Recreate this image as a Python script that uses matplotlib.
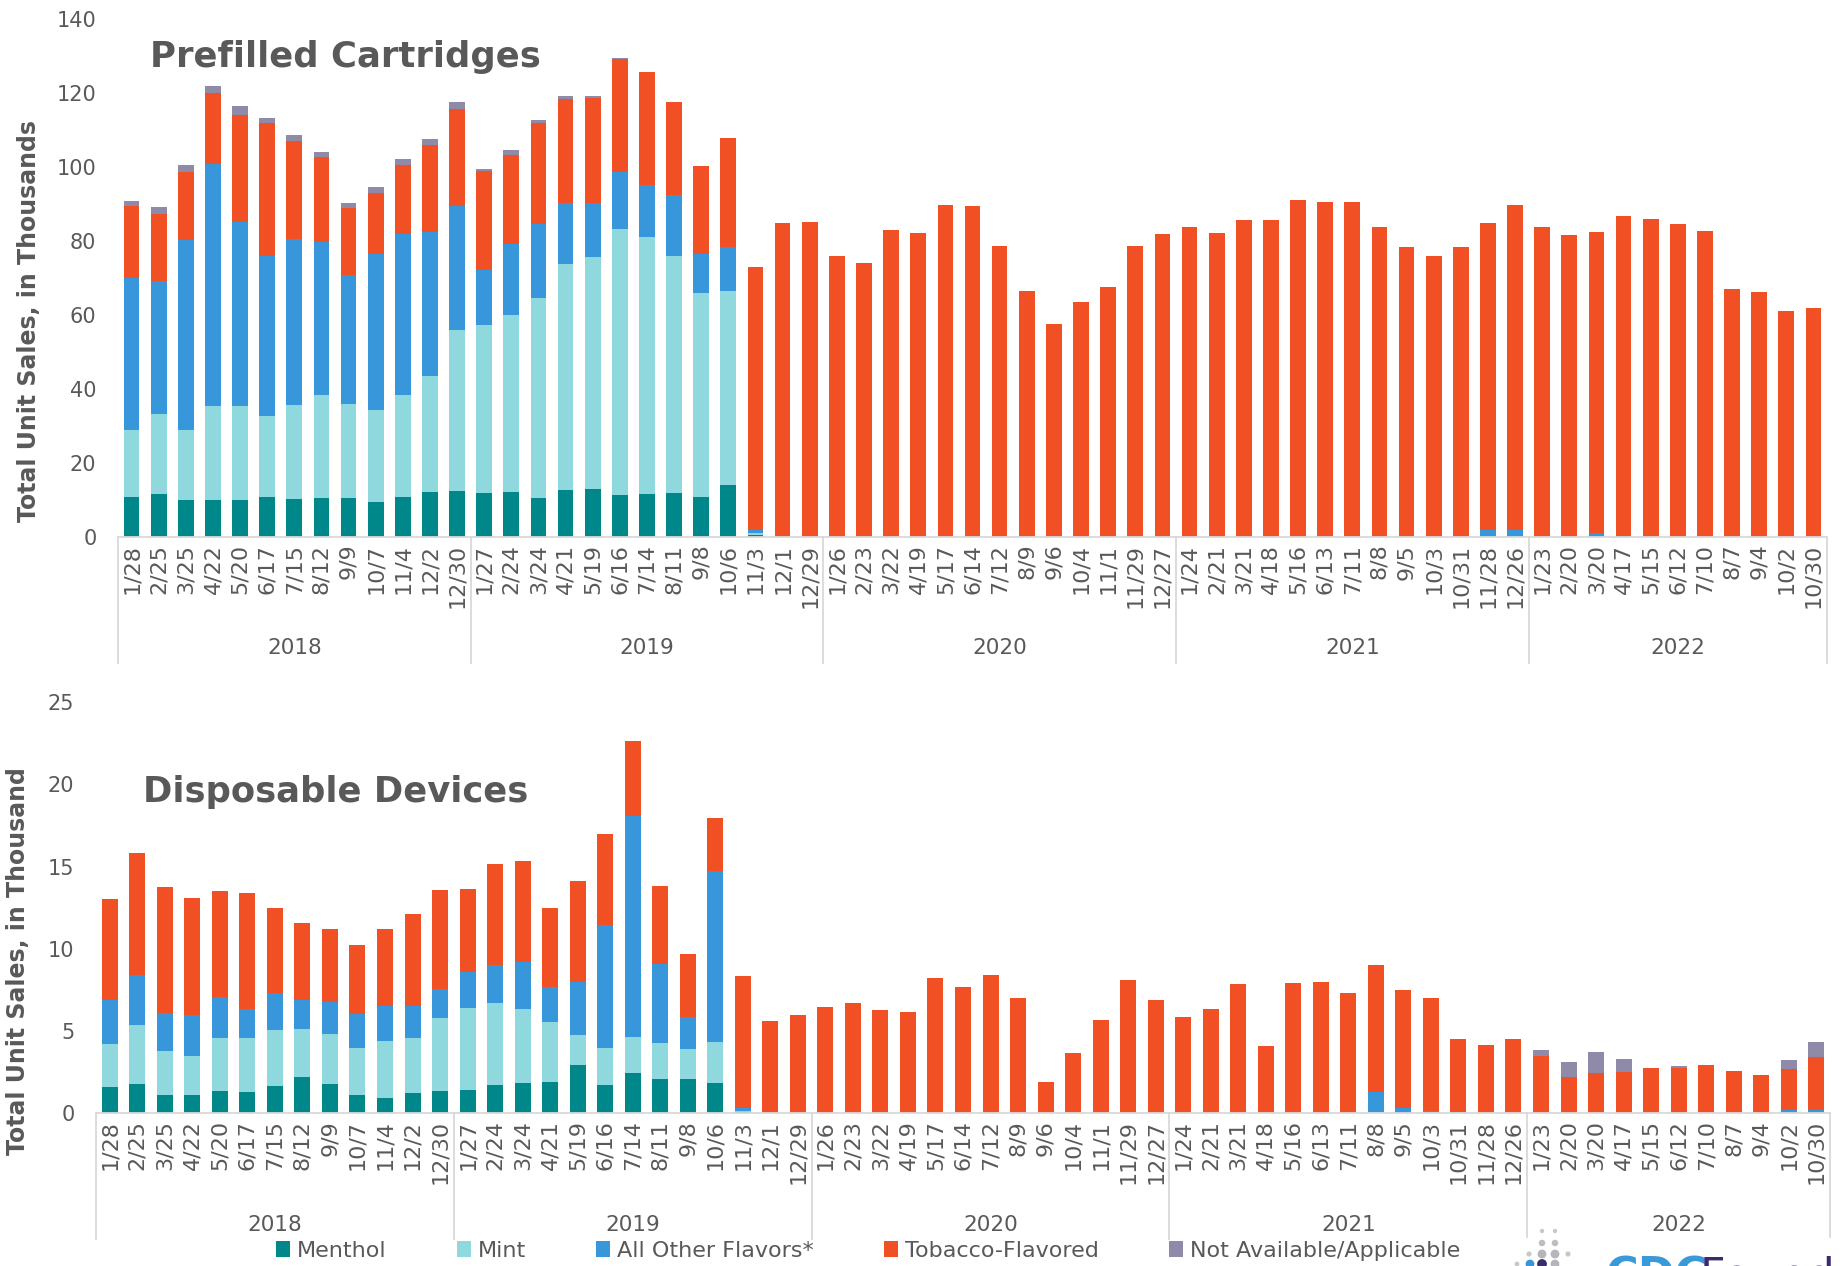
import numpy as np
import matplotlib
matplotlib.use("Agg")
import matplotlib.pyplot as plt
from matplotlib.patches import Patch, Rectangle

# ---- week labels (4-week periods) grouped by year ----
weeks_2018 = ["1/28", "2/25", "3/25", "4/22", "5/20", "6/17", "7/15", "8/12", "9/9", "10/7", "11/4", "12/2", "12/30"]
weeks_2019 = ["1/27", "2/24", "3/24", "4/21", "5/19", "6/16", "7/14", "8/11", "9/8", "10/6", "11/3", "12/1", "12/29"]
weeks_2020 = ["1/26", "2/23", "3/22", "4/19", "5/17", "6/14", "7/12", "8/9", "9/6", "10/4", "11/1", "11/29", "12/27"]
weeks_2021 = ["1/24", "2/21", "3/21", "4/18", "5/16", "6/13", "7/11", "8/8", "9/5", "10/3", "10/31", "11/28", "12/26"]
weeks_2022 = ["1/23", "2/20", "3/20", "4/17", "5/15", "6/12", "7/10", "8/7", "9/4", "10/2", "10/30"]
years = ["2018", "2019", "2020", "2021", "2022"]

flavors = ["Menthol", "Mint", "All Other Flavors*", "Tobacco-Flavored", "Not Available/Applicable"]

# ---- Prefilled cartridges, unit sales in thousands ----
cart_menthol = [10.8, 11.5, 9.9, 10.0, 9.8, 10.7, 10.3, 10.5, 10.4, 9.4, 10.7, 12.1, 12.3,
                11.7, 12.1, 10.5, 12.6, 12.8, 11.4, 11.5, 11.9, 10.8, 13.9, 0.4, 0.0, 0.0,
                0, 0, 0, 0, 0, 0, 0, 0, 0, 0, 0, 0, 0,
                0, 0, 0, 0, 0, 0, 0, 0, 0, 0, 0, 0, 0,
                0, 0, 0, 0.2, 0, 0, 0, 0, 0, 0, 0]
cart_mint = [18.0, 21.7, 18.9, 25.3, 25.5, 21.9, 25.4, 27.7, 25.5, 24.8, 27.7, 31.4, 43.6,
             45.4, 47.8, 54.1, 61.1, 62.9, 71.7, 69.5, 64.0, 55.1, 52.4, 0.5, 0.0, 0.0,
             0, 0, 0, 0, 0, 0, 0, 0, 0, 0, 0, 0, 0,
             0, 0, 0, 0, 0, 0, 0, 0, 0, 0, 0, 0, 0,
             0, 0, 0, 0, 0, 0, 0, 0, 0, 0, 0]
cart_other = [41.1, 35.9, 51.4, 65.5, 49.9, 43.4, 44.7, 41.4, 34.8, 42.2, 43.5, 39.0, 33.6,
              14.9, 19.3, 19.9, 16.5, 14.4, 15.5, 14.2, 16.5, 10.5, 11.9, 0.9, 0.0, 0.0,
              0, 0, 0, 0, 0, 0, 0, 0, 0, 0, 0, 0, 0,
              0, 0, 0, 0, 0, 0, 0, 0, 0, 0, 0, 1.7, 1.7,
              0, 0, 0.9, 0, 0, 0, 0, 0, 0, 0, 0]
cart_tobacco = [19.6, 18.2, 18.4, 19.2, 28.9, 35.7, 26.5, 23.1, 18.1, 16.6, 18.6, 23.5, 26.1,
                26.8, 24.0, 27.3, 28.1, 28.5, 30.4, 30.4, 25.2, 23.8, 29.7, 71.2, 84.9, 85.1,
                75.9, 74.1, 82.9, 82.1, 89.8, 89.3, 78.5, 66.5, 57.6, 63.4, 67.5, 78.6, 81.7,
                83.6, 82.1, 85.7, 85.5, 91.0, 90.5, 90.6, 83.6, 78.2, 75.9, 78.3, 83.2, 88.1,
                83.7, 81.5, 81.4, 86.4, 85.8, 84.4, 82.6, 66.9, 66.1, 60.9, 61.8]
cart_na = [1.2, 1.8, 1.9, 1.9, 2.4, 1.5, 1.7, 1.4, 1.4, 1.5, 1.6, 1.6, 1.9,
           0.7, 1.3, 0.9, 0.7, 0.5, 0.4, 0.0, 0.0, 0.0, 0.0, 0.0, 0.0, 0.0,
           0, 0, 0, 0, 0, 0, 0, 0, 0, 0, 0, 0, 0,
           0, 0, 0, 0, 0, 0, 0, 0, 0, 0, 0, 0, 0,
           0, 0, 0, 0, 0, 0, 0, 0, 0, 0, 0]

# ---- Disposable devices, unit sales in thousands ----
disp_menthol = [1.62, 1.81, 1.14, 1.12, 1.38, 1.32, 1.68, 2.19, 1.81, 1.14, 0.95, 1.22, 1.36,
                1.44, 1.74, 1.87, 1.91, 2.94, 1.72, 2.43, 2.09, 2.07, 1.83, 0.05, 0.0, 0.0,
                0, 0, 0, 0, 0, 0, 0, 0, 0, 0, 0, 0, 0,
                0, 0, 0, 0, 0, 0, 0, 0, 0, 0, 0, 0, 0,
                0, 0, 0, 0, 0, 0, 0, 0, 0, 0, 0]
disp_mint = [2.60, 3.57, 2.67, 2.37, 3.20, 3.26, 3.41, 2.96, 3.02, 2.84, 3.43, 3.38, 4.42,
             4.97, 4.97, 4.46, 3.67, 1.85, 2.28, 2.19, 2.21, 1.82, 2.51, 0.10, 0.0, 0.0,
             0, 0, 0, 0, 0, 0, 0, 0, 0, 0, 0, 0, 0,
             0, 0, 0, 0, 0, 0, 0, 0.05, 0, 0, 0, 0, 0,
             0, 0, 0, 0, 0, 0, 0, 0, 0, 0, 0]
disp_other = [2.68, 3.04, 2.32, 2.51, 2.48, 1.79, 2.23, 1.75, 1.97, 2.08, 2.13, 1.93, 1.81,
              2.19, 2.30, 2.90, 2.11, 3.22, 7.44, 13.49, 4.79, 1.95, 10.37, 0.20, 0.0, 0.0,
              0, 0, 0, 0, 0, 0, 0, 0, 0, 0, 0, 0, 0,
              0, 0, 0, 0, 0, 0, 0, 1.25, 0.33, 0.12, 0.08, 0, 0,
              0, 0, 0, 0, 0, 0, 0, 0, 0, 0.20, 0.20]
disp_tobacco = [6.14, 7.44, 7.62, 7.08, 6.47, 7.04, 5.15, 4.68, 4.40, 4.16, 4.69, 5.58, 6.00,
                5.05, 6.14, 6.10, 4.80, 6.09, 5.56, 4.53, 4.76, 3.84, 3.26, 8.03, 5.62, 5.95,
                6.49, 6.71, 6.30, 6.19, 8.25, 7.67, 8.44, 7.01, 1.89, 3.64, 5.70, 8.11, 6.90,
                5.86, 6.36, 7.86, 4.11, 7.95, 8.00, 7.34, 7.74, 7.15, 6.89, 4.41, 4.16, 4.49,
                3.51, 2.19, 2.47, 2.49, 2.77, 2.74, 2.96, 2.55, 2.36, 2.48, 3.22]
disp_na = [0, 0, 0, 0, 0, 0, 0, 0, 0, 0, 0, 0, 0,
           0, 0, 0, 0, 0, 0, 0, 0, 0, 0, 0, 0, 0,
           0, 0, 0, 0, 0, 0, 0, 0, 0, 0, 0, 0, 0,
           0, 0, 0, 0, 0, 0, 0, 0, 0, 0, 0, 0, 0,
           0.33, 0.93, 1.23, 0.80, 0.0, 0.11, 0.0, 0.0, 0.0, 0.55, 0.91]

colors = ["#00878A", "#8FD9DE", "#3897DA", "#F05023", "#8E8AA8"]
TEXT = "#595959"
RULE = "#D9D9D9"

week_groups = [weeks_2018, weeks_2019, weeks_2020, weeks_2021, weeks_2022]
week_labels = [w for grp in week_groups for w in grp]

W, H = 1841, 1266
fig = plt.figure(figsize=(W / 100, H / 100), dpi=100)
fig.patch.set_facecolor("white")


def axes_px(left, top, right, bottom):
    return fig.add_axes([left / W, 1 - bottom / H, (right - left) / W, (bottom - top) / H])


def draw_panel(ax, series, ymax, ystep, sep_depth, year_pos):
    n = len(week_labels)
    x = np.arange(n)
    base = np.zeros(n)
    for vals, col, name in zip(series, colors, flavors):
        v = np.asarray(vals, dtype=float)
        ax.bar(x, v, width=0.58, bottom=base, color=col, linewidth=0, label=name, zorder=2)
        base += v
    ax.set_xlim(-0.5, n - 0.5)
    ax.set_ylim(0, ymax)
    ax.set_yticks(np.arange(0, ymax + ystep / 2, ystep))
    ax.tick_params(axis="y", length=0, pad=15.5, labelsize=15, labelcolor=TEXT)
    ax.set_xticks(x)
    ax.set_xticklabels(week_labels, rotation=90, ha="center", va="top")
    ax.tick_params(axis="x", length=0, pad=5, labelsize=16, labelcolor=TEXT)
    for s in ["top", "right", "left"]:
        ax.spines[s].set_visible(False)
    ax.spines["bottom"].set_color(RULE)
    ax.spines["bottom"].set_linewidth(1.3)
    ax.set_facecolor("none")

    trans = ax.get_xaxis_transform()
    start = -0.5
    bounds = [start]
    for grp in week_groups:
        start += len(grp)
        bounds.append(start)
    for b in bounds:
        ax.plot([b, b], [0, -sep_depth], transform=trans, clip_on=False,
                color=RULE, lw=1.3, zorder=1)
    for yr, lo, hi in zip(years, bounds[:-1], bounds[1:]):
        ax.text((lo + hi) / 2, -year_pos, yr, transform=trans, ha="center", va="center",
                fontsize=15.5, color=TEXT)


# upper panel: prefilled cartridges
ax1 = axes_px(118, 18.8, 1827, 536.7)
draw_panel(ax1, [cart_menthol, cart_mint, cart_other, cart_tobacco, cart_na],
           140, 20, 0.244, 0.215)

# lower panel: disposable devices
ax2 = axes_px(96, 702.3, 1830, 1113.3)
draw_panel(ax2, [disp_menthol, disp_mint, disp_other, disp_tobacco, disp_na],
           25, 5, 0.305, 0.272)

# panel titles
fig.text(150 / W, 1 - 67 / H, "Prefilled Cartridges", fontsize=25.5, fontweight="bold",
         color=TEXT, ha="left", va="baseline")
fig.text(143 / W, 1 - 802 / H, "Disposable Devices", fontsize=25.5, fontweight="bold",
         color=TEXT, ha="left", va="baseline")

# axis titles
fig.text(29 / W, 1 - 321 / H, "Total Unit Sales, in Thousands", rotation=90, fontsize=17,
         fontweight="bold", color=TEXT, ha="center", va="center")
fig.text(18 / W, 1 - 961 / H, "Total Unit Sales, in Thousand", rotation=90, fontsize=17,
         fontweight="bold", color=TEXT, ha="center", va="center")

# shared legend along the bottom
handles = [Patch(facecolor=c, edgecolor="none") for c in colors]
fig.legend(handles, flavors, loc="center", bbox_to_anchor=(868 / W, 1 - 1251 / H),
           ncol=5, frameon=False, fontsize=16, handlelength=0.65, handleheight=0.75,
           handletextpad=0.3, columnspacing=3.15, labelcolor=TEXT, borderpad=0)

# foundation mark in the lower right corner
ov = fig.add_axes([0, 0, 1, 1], zorder=5)
ov.set_xlim(0, W)
ov.set_ylim(H, 0)
ov.axis("off")
ov.add_patch(Rectangle((1518, 1238), W - 1518, H - 1238, facecolor="white", edgecolor="none"))
dot_x = [1542, 1555, 1542, 1555, 1529, 1542, 1555, 1568, 1530, 1542, 1555, 1517]
dot_y = [1231, 1231, 1243, 1243, 1254, 1254, 1254, 1254, 1264, 1264, 1264, 1264]
dot_s = [10, 10, 22, 22, 14, 40, 40, 14, 40, 50, 40, 12]
dot_c = ["#C8C8CC", "#C8C8CC", "#BDBDC2", "#BDBDC2", "#C8C8CC", "#B5B5BB", "#B5B5BB", "#C8C8CC",
         "#3897DA", "#3B2C6B", "#B5B5BB", "#C8C8CC"]
ov.scatter(dot_x, dot_y, s=dot_s, c=dot_c, linewidths=0)
ov.text(1606, 1256, "CDC", fontsize=32, fontweight="bold", color="#3A99D8", ha="left", va="top")
ov.text(1700, 1256, "Foundation", fontsize=32, color="#3C2A6B", ha="left", va="top")

fig.savefig("out.png", dpi=100, facecolor="white")
